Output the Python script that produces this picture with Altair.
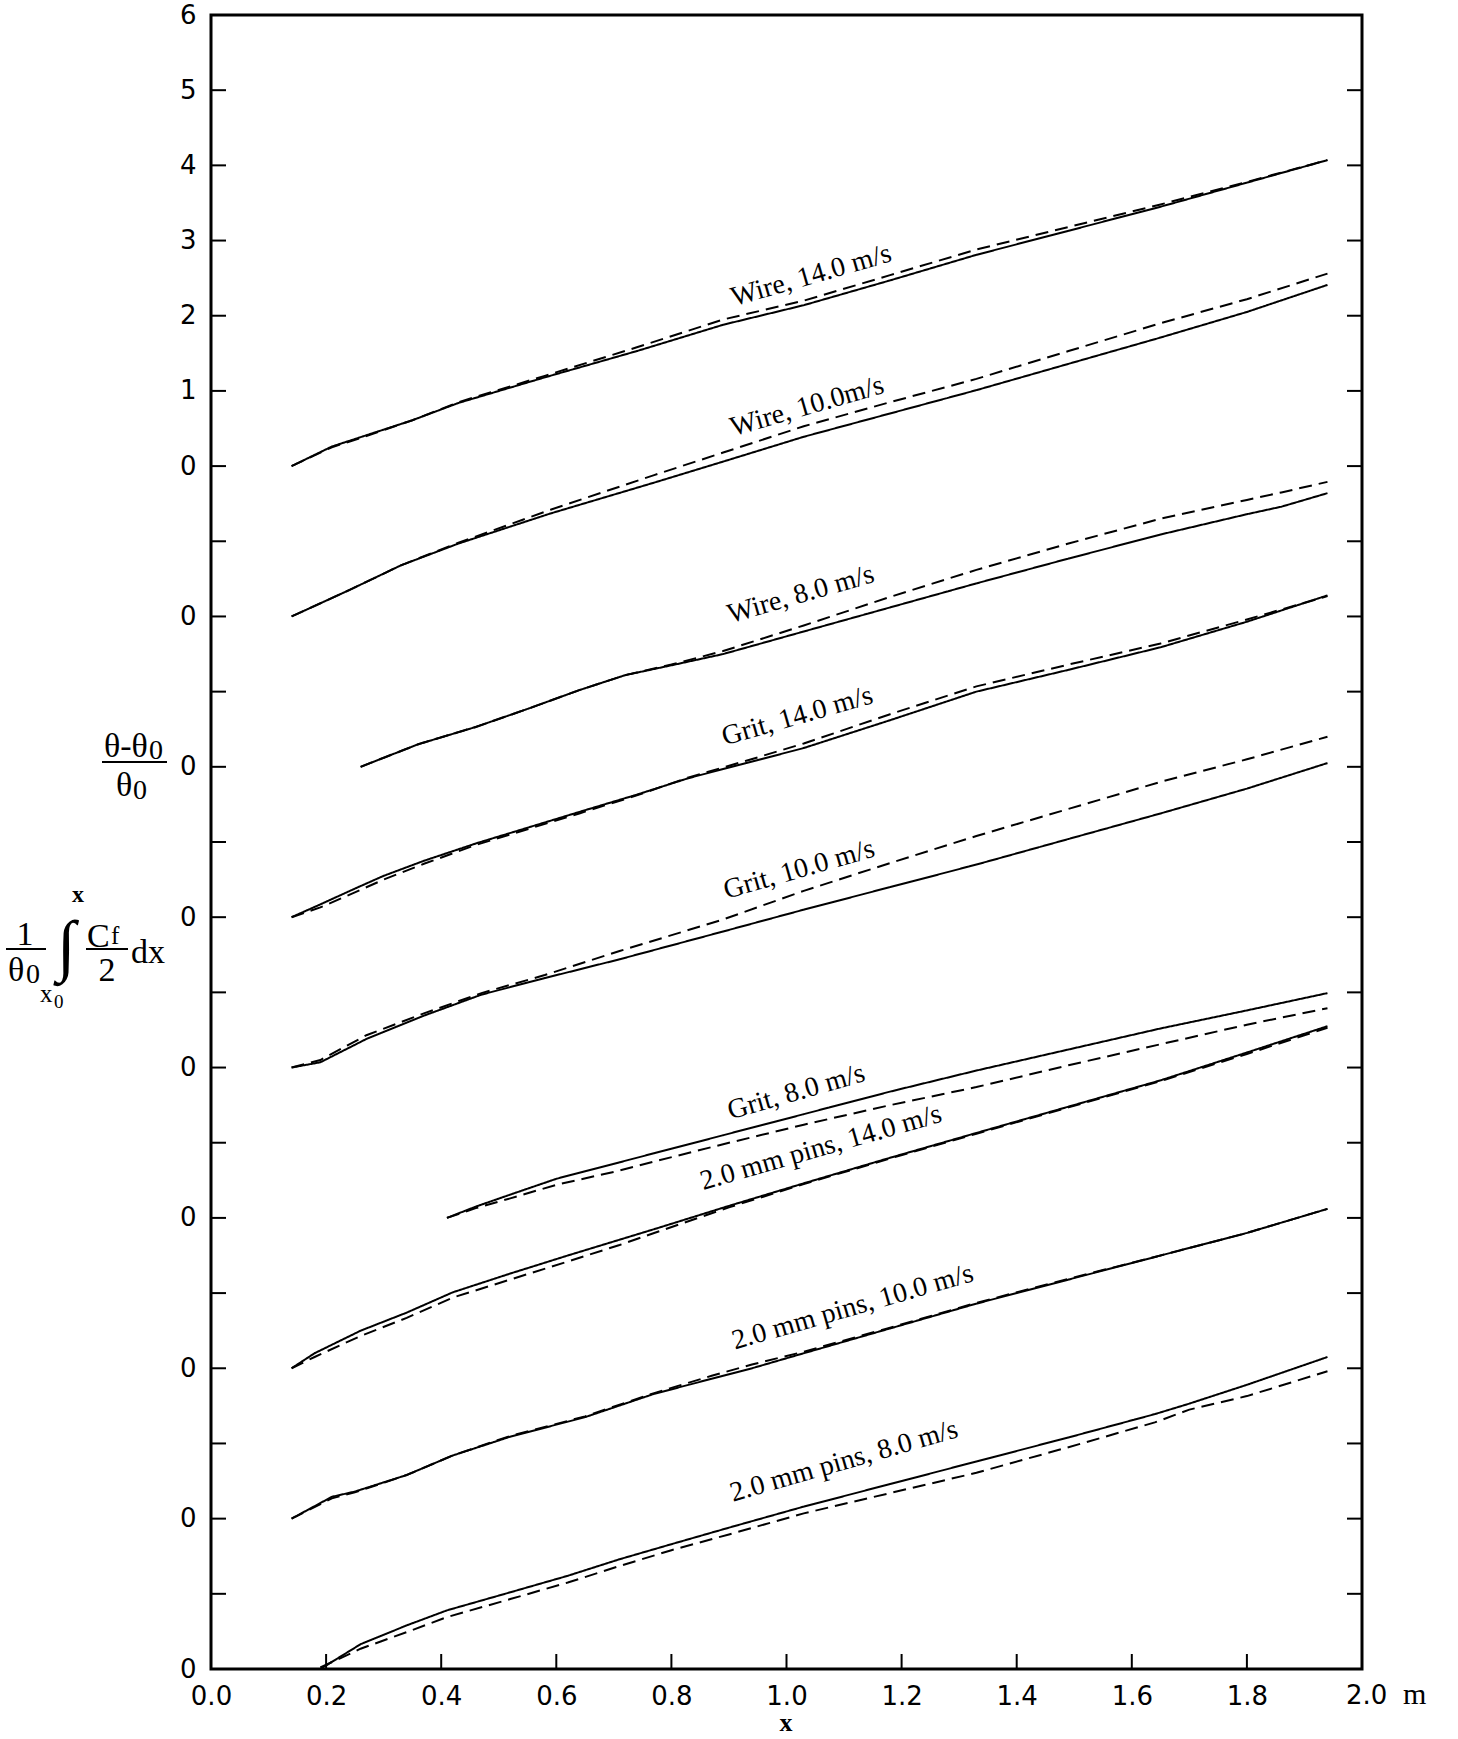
import altair as alt
import pandas as pd

# ---------------------------------------------------------------------------
# Momentum-integral check: (theta - theta0)/theta0 (solid) against
# (1/theta0) * integral of Cf/2 dx (dashed) for nine roughness cases.
# Each case is drawn on its own baseline, shifted up by LEVELS units.
# ---------------------------------------------------------------------------

CASES = [
    "Wire, 14.0 m/s", "Wire, 10.0m/s", "Wire, 8.0 m/s",
    "Grit, 14.0 m/s", "Grit, 10.0 m/s", "Grit, 8.0 m/s",
    "2.0 mm pins, 14.0 m/s", "2.0 mm pins, 10.0 m/s", "2.0 mm pins, 8.0 m/s",
]
LEVELS = [16, 14, 12, 10, 8, 6, 4, 2, 0]

WIRE14_X = [0.14, 0.21, 0.27, 0.35, 0.43, 0.58, 0.74, 0.89, 1.03, 1.18, 1.33, 1.49, 1.65, 1.80, 1.94]
WIRE14_THETA = [0, 0.26, 0.41, 0.61, 0.84, 1.18, 1.53, 1.88, 2.14, 2.47, 2.81, 3.13, 3.45, 3.77, 4.07]
WIRE14_CF = [0, 0.25, 0.40, 0.61, 0.85, 1.20, 1.58, 1.95, 2.20, 2.54, 2.88, 3.18, 3.48, 3.78, 4.07]

WIRE10_X = [0.14, 0.24, 0.33, 0.43, 0.59, 0.77, 0.89, 1.03, 1.18, 1.33, 1.49, 1.65, 1.80, 1.94]
WIRE10_THETA = [0, 0.35, 0.68, 0.97, 1.37, 1.78, 2.06, 2.39, 2.70, 3.01, 3.36, 3.71, 4.05, 4.41]
WIRE10_CF = [0, 0.35, 0.68, 0.98, 1.42, 1.88, 2.18, 2.53, 2.85, 3.16, 3.53, 3.90, 4.22, 4.56]

WIRE8_X = [0.26, 0.36, 0.46, 0.55, 0.64, 0.72, 0.80, 0.89, 1.03, 1.18, 1.33, 1.49, 1.65, 1.80, 1.86, 1.94]
WIRE8_THETA = [0, 0.30, 0.53, 0.77, 1.02, 1.22, 1.35, 1.50, 1.80, 2.12, 2.44, 2.77, 3.09, 3.36, 3.46, 3.64]
WIRE8_CF = [0, 0.30, 0.53, 0.77, 1.02, 1.22, 1.36, 1.54, 1.88, 2.26, 2.62, 2.97, 3.30, 3.55, 3.65, 3.79]

GRIT14_X = [0.14, 0.19, 0.25, 0.30, 0.37, 0.46, 0.55, 0.64, 0.74, 0.83, 0.93, 1.03, 1.18, 1.33, 1.49, 1.65, 1.80, 1.94]
GRIT14_THETA = [0, 0.17, 0.38, 0.55, 0.75, 0.98, 1.19, 1.40, 1.63, 1.85, 2.05, 2.25, 2.62, 3.00, 3.29, 3.59, 3.93, 4.28]
GRIT14_CF = [0, 0.13, 0.33, 0.50, 0.71, 0.96, 1.17, 1.38, 1.62, 1.86, 2.08, 2.31, 2.70, 3.07, 3.36, 3.64, 3.96, 4.27]

GRIT10_X = [0.14, 0.19, 0.27, 0.37, 0.47, 0.58, 0.71, 0.89, 1.03, 1.18, 1.33, 1.49, 1.65, 1.80, 1.94]
GRIT10_THETA = [0, 0.07, 0.38, 0.69, 0.97, 1.19, 1.44, 1.81, 2.10, 2.40, 2.70, 3.04, 3.38, 3.71, 4.05]
GRIT10_CF = [0, 0.10, 0.43, 0.72, 0.99, 1.23, 1.55, 1.97, 2.35, 2.72, 3.08, 3.44, 3.80, 4.10, 4.40]

GRIT8_X = [0.41, 0.46, 0.52, 0.60, 0.71, 0.77, 0.89, 1.03, 1.18, 1.33, 1.49, 1.65, 1.80, 1.94]
GRIT8_THETA = [0, 0.15, 0.31, 0.52, 0.74, 0.86, 1.10, 1.38, 1.68, 1.96, 2.24, 2.52, 2.76, 2.99]
GRIT8_CF = [0, 0.13, 0.26, 0.44, 0.63, 0.75, 0.98, 1.24, 1.50, 1.74, 2.03, 2.31, 2.57, 2.79]

PINS14_X = [0.14, 0.18, 0.26, 0.34, 0.42, 0.52, 0.62, 0.71, 0.77, 0.90, 1.03, 1.18, 1.33, 1.49, 1.65, 1.80, 1.94]
PINS14_THETA = [0, 0.20, 0.50, 0.74, 1.01, 1.26, 1.50, 1.71, 1.85, 2.16, 2.46, 2.80, 3.13, 3.48, 3.83, 4.20, 4.55]
PINS14_CF = [0, 0.15, 0.43, 0.67, 0.94, 1.18, 1.42, 1.64, 1.80, 2.14, 2.45, 2.79, 3.12, 3.47, 3.82, 4.18, 4.53]

PINS10_X = [0.14, 0.21, 0.25, 0.34, 0.42, 0.52, 0.65, 0.77, 0.87, 0.94, 1.03, 1.18, 1.33, 1.49, 1.65, 1.80, 1.94]
PINS10_THETA = [0, 0.29, 0.36, 0.58, 0.84, 1.09, 1.35, 1.66, 1.86, 2.00, 2.20, 2.53, 2.86, 3.18, 3.50, 3.80, 4.12]
PINS10_CF = [0, 0.27, 0.35, 0.58, 0.84, 1.10, 1.36, 1.67, 1.90, 2.05, 2.22, 2.54, 2.87, 3.19, 3.50, 3.80, 4.12]

PINS8_X = [0.19, 0.26, 0.34, 0.41, 0.52, 0.62, 0.71, 0.80, 0.90, 1.03, 1.18, 1.33, 1.49, 1.64, 1.70, 1.80, 1.94]
PINS8_THETA = [0, 0.33, 0.58, 0.78, 1.02, 1.24, 1.46, 1.66, 1.88, 2.16, 2.46, 2.76, 3.08, 3.39, 3.53, 3.78, 4.15]
PINS8_CF = [0.02, 0.27, 0.49, 0.69, 0.93, 1.15, 1.37, 1.58, 1.79, 2.07, 2.34, 2.61, 2.95, 3.28, 3.45, 3.63, 3.96]

SERIES = [
    (WIRE14_X, WIRE14_THETA, WIRE14_CF), (WIRE10_X, WIRE10_THETA, WIRE10_CF),
    (WIRE8_X, WIRE8_THETA, WIRE8_CF), (GRIT14_X, GRIT14_THETA, GRIT14_CF),
    (GRIT10_X, GRIT10_THETA, GRIT10_CF), (GRIT8_X, GRIT8_THETA, GRIT8_CF),
    (PINS14_X, PINS14_THETA, PINS14_CF), (PINS10_X, PINS10_THETA, PINS10_CF),
    (PINS8_X, PINS8_THETA, PINS8_CF),
]

# where each case's name is written along its curve (x in m, y in shifted units)
LABEL_X = [1.043, 1.036, 1.025, 1.019, 1.022, 1.017, 1.060, 1.115, 1.100]
LABEL_Y = [18.53, 16.79, 14.29, 12.67, 10.63, 7.67, 6.93, 4.81, 2.76]

X_TICKS = [0.2, 0.4, 0.6, 0.8, 1.0, 1.2, 1.4, 1.6, 1.8]
X_LABELS = [0.0, 0.2, 0.4, 0.6, 0.8, 1.0, 1.2, 1.4, 1.6, 1.8]
Y_TICKS = list(range(0, 23))

# ---------------------------------------------------------------------------
rows = []
for name, level, (xs, theta, cf) in zip(CASES, LEVELS, SERIES):
    for x, v in zip(xs, theta):
        rows.append({"case": name, "kind": "theta", "x": x, "y": v + level})
    for x, v in zip(xs, cf):
        rows.append({"case": name, "kind": "cf", "x": x, "y": v + level})
curves_df = pd.DataFrame(rows)
labels_df = pd.DataFrame({"case": CASES, "x": LABEL_X, "y": LABEL_Y})

LEFT, TOP = 211, 15
W, H = 1151, 1654
SANS = "DejaVu Sans"
SERIF = "Liberation Serif"
TICK_FONT = 26

x_scale = alt.Scale(domain=[0, 2], nice=False, zero=False)
y_scale = alt.Scale(domain=[0, 22], nice=False, zero=False)

x_axis = alt.Axis(
    values=X_LABELS, labelExpr="format(datum.value, '.1f')", title=None,
    ticks=False, domain=False, grid=False, labelFont=SANS, labelFontSize=TICK_FONT,
    labelColor="black", labelPadding=35, labelBaseline="alphabetic",
    labelFlush=False, labelOverlap=False,
)
y_axis = alt.Axis(
    values=Y_TICKS,
    labelExpr="datum.value >= 16 ? toString(datum.value - 16) : (datum.value % 2 == 0 ? '0' : '')",
    title=None, ticks=False, tickSize=0, domain=False, grid=False,
    labelFont=SANS, labelFontSize=TICK_FONT, labelColor="black", labelPadding=15,
    labelFlush=False, labelOverlap=False,
)

lines = alt.Chart(curves_df).mark_line(color="black", strokeWidth=2).encode(
    x=alt.X("x:Q", scale=x_scale, axis=x_axis),
    y=alt.Y("y:Q", scale=y_scale, axis=y_axis),
    detail=alt.Detail("case:N"),
    strokeDash=alt.StrokeDash(
        "kind:N",
        scale=alt.Scale(domain=["theta", "cf"], range=[[1, 0], [13, 7]]),
        legend=None,
    ),
    order=alt.Order("x:Q"),
)

case_labels = alt.Chart(labels_df).mark_text(
    font=SERIF, fontSize=28, angle=344, align="center", baseline="middle", color="black"
).encode(x=alt.X("x:Q", scale=x_scale), y=alt.Y("y:Q", scale=y_scale), text="case:N")

# inward tick marks on the left, right and bottom edges
yt = pd.DataFrame({"v": Y_TICKS})
xt = pd.DataFrame({"v": X_TICKS})
left_ticks = alt.Chart(yt).mark_rule(color="black", strokeWidth=2).encode(
    y=alt.Y("v:Q", scale=y_scale), x=alt.value(0), x2=alt.value(15))
right_ticks = alt.Chart(yt).mark_rule(color="black", strokeWidth=2).encode(
    y=alt.Y("v:Q", scale=y_scale), x=alt.value(W - 15), x2=alt.value(W))
bottom_ticks = alt.Chart(xt).mark_rule(color="black", strokeWidth=2).encode(
    x=alt.X("v:Q", scale=x_scale), y=alt.value(H - 15), y2=alt.value(H))


def glyph(text, fx, fy, size, align="left", weight="normal", font=SERIF):
    """A piece of text placed at page position (fx, fy), baseline at fy."""
    return alt.Chart(alt.Data(values=[{}])).mark_text(
        text=text, align=align, baseline="alphabetic", font=font,
        fontSize=size, fontWeight=weight, color="black",
    ).encode(x=alt.value(fx - LEFT), y=alt.value(fy - TOP))


def bar(fx1, fx2, fy):
    """A fraction bar from fx1 to fx2 at page height fy."""
    return alt.Chart(alt.Data(values=[{}])).mark_rule(color="black", strokeWidth=2).encode(
        x=alt.value(fx1 - LEFT), x2=alt.value(fx2 - LEFT), y=alt.value(fy - TOP))


y_title = [
    # (theta - theta0) / theta0
    glyph("θ-θ", 104, 757, 34), glyph("0", 149, 759, 28), bar(102, 167, 762),
    glyph("θ", 116, 796, 34), glyph("0", 133, 799, 28),
    # (1/theta0) * integral_{x0}^{x} Cf/2 dx
    glyph("1", 25, 945, 34, align="center"), bar(6, 46, 949),
    glyph("θ", 8, 981, 34), glyph("0", 26, 983, 28),
    glyph("x", 40, 1002, 25), glyph("0", 54, 1008, 19),
    glyph("∫", 66, 968, 68, align="center"),
    glyph("x", 78, 902, 24, align="center", weight="bold"),
    glyph("C", 87, 947, 34), glyph("f", 111, 944, 25), bar(86, 128, 949),
    glyph("2", 107, 981, 34, align="center"),
    glyph("dx", 131, 963, 34),
]

x_title = [
    glyph("2.0", 1346, 1704, TICK_FONT, font=SANS),
    glyph("m", 1403, 1704, 30),
    glyph("x", 786, 1731, 26, align="center", weight="bold"),
]

chart = alt.layer(
    lines, case_labels, left_ticks, right_ticks, bottom_ticks, *y_title, *x_title
).properties(
    width=W, height=H,
    padding={"left": LEFT, "top": TOP, "right": 1458 - LEFT - W, "bottom": 1739 - TOP - H},
    autosize=alt.AutoSizeParams(type="none"),
    background="white",
).configure_view(stroke="black", strokeWidth=3)

chart.save("out.html", embed_options={"renderer": "svg", "actions": False})
